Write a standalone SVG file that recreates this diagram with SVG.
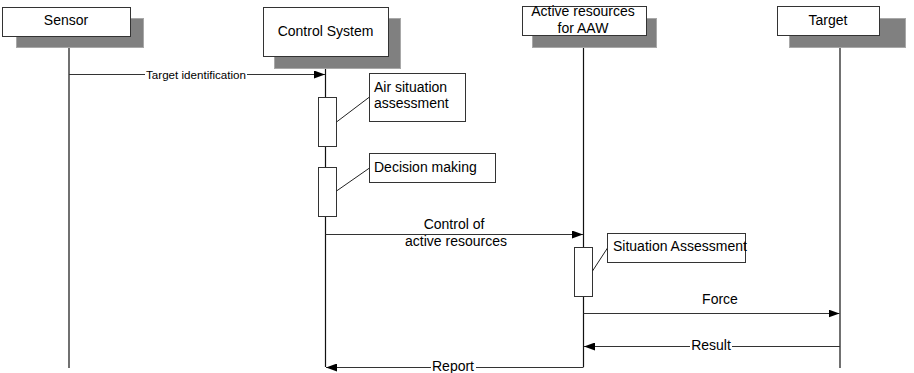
<svg xmlns="http://www.w3.org/2000/svg" width="914" height="373" viewBox="0 0 914 373">
<defs>
<style>
text{font-family:"Liberation Sans",Arial,sans-serif;font-size:14px;fill:#000}
.small{font-size:11.6px}
.box{fill:#fff;stroke:#333;stroke-width:1}
.shadow{fill:#808080;stroke:#a8a8a8;stroke-width:1}
.life{stroke:#111;stroke-width:1.2;fill:none}
.msg{stroke:#333;stroke-width:1;fill:none;marker-end:url(#ah)}
.act{fill:#fff;stroke:#333;stroke-width:1}
.lead{stroke:#222;stroke-width:1;fill:none}
.bg{fill:#fff}
</style>
<marker id="ah" viewBox="0 0 11 8" refX="11" refY="4" markerWidth="11" markerHeight="8" markerUnits="userSpaceOnUse" orient="auto">
<path d="M0,0 L11,4 L0,8 z" fill="#000"/>
</marker>
</defs>
<g id="lifelines">
<line class="life" x1="69" y1="36" x2="69" y2="368"/>
<line class="life" x1="325.5" y1="57" x2="325.5" y2="367"/>
<line class="life" x1="583.5" y1="36" x2="583.5" y2="367"/>
<line class="life" x1="840" y1="36" x2="840" y2="368"/>
</g>
<g id="sensor">
<rect class="shadow" x="16.5" y="18.5" width="127" height="29"/>
<rect class="box" x="2.5" y="7.5" width="128" height="29"/>
<text x="66" y="25" text-anchor="middle">Sensor</text>
</g>
<g id="control-system">
<rect class="shadow" x="274.5" y="18.5" width="126" height="50"/>
<rect class="box" x="263.5" y="7.5" width="125" height="49"/>
<text x="325.5" y="36" text-anchor="middle">Control System</text>
</g>
<g id="active-resources">
<rect class="shadow" x="532.5" y="18.5" width="124" height="29"/>
<rect class="box" x="522.5" y="6.5" width="124" height="29"/>
<text x="583" y="15.5" text-anchor="middle">Active resources</text>
<text x="583" y="33" text-anchor="middle">for AAW</text>
</g>
<g id="target">
<rect class="shadow" x="789.5" y="18.5" width="116" height="29"/>
<rect class="box" x="777.5" y="6.5" width="102" height="29"/>
<text x="828" y="25" text-anchor="middle">Target</text>
</g>
<g id="connectors">
<line class="msg" x1="69" y1="74.5" x2="325" y2="74.5"/>
<rect class="bg" x="145" y="68" width="102" height="12"/>
<text class="small" x="196" y="78.5" text-anchor="middle">Target identification</text>
<line class="msg" x1="325.5" y1="234.5" x2="583" y2="234.5"/>
<text x="454" y="229" text-anchor="middle">Control of</text>
<text x="456" y="246" text-anchor="middle">active resources</text>
<line class="msg" x1="583.5" y1="313.5" x2="839.5" y2="313.5"/>
<text x="720" y="304" text-anchor="middle">Force</text>
<line class="msg" x1="840" y1="346.5" x2="584" y2="346.5"/>
<rect class="bg" x="690" y="338" width="42" height="15"/>
<text x="711" y="350" text-anchor="middle">Result</text>
<line class="msg" x1="583.5" y1="367.5" x2="326" y2="367.5"/>
<rect class="bg" x="431" y="359" width="45" height="14"/>
<text x="453" y="371" text-anchor="middle">Report</text>
</g>
<g id="air-situation-assessment">
<rect class="act" x="318.5" y="97.5" width="18" height="49"/>
<line class="lead" x1="336.5" y1="122" x2="369.5" y2="97"/>
<rect class="box" x="369.5" y="73.5" width="96" height="48"/>
<text x="374" y="92">Air situation</text>
<text x="374" y="108">assessment</text>
</g>
<g id="decision-making">
<rect class="act" x="318.5" y="167.5" width="18" height="49"/>
<line class="lead" x1="336.5" y1="191" x2="369.5" y2="168"/>
<rect class="box" x="369.5" y="153.5" width="126" height="29"/>
<text x="374" y="172">Decision making</text>
</g>
<g id="situation-assessment">
<rect class="act" x="574.5" y="247.5" width="18" height="49"/>
<line class="lead" x1="592.5" y1="271" x2="607.5" y2="248"/>
<rect class="box" x="607.5" y="233.5" width="138" height="29"/>
<text x="613" y="251">Situation Assessment</text>
</g>
</svg>
